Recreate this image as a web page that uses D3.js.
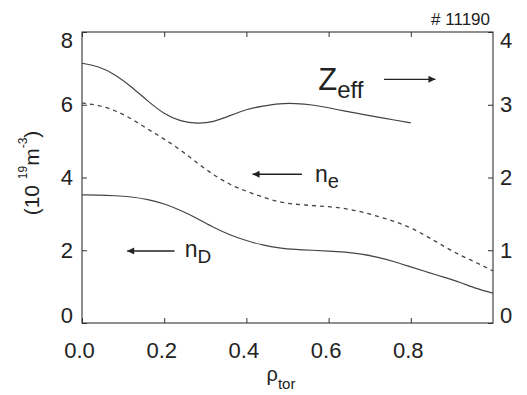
<!DOCTYPE html>
<html>
<head>
<meta charset="utf-8">
<script src="https://cdn.jsdelivr.net/npm/d3@7"></script>
<style>
  body { margin: 0; background: #fff; }
  svg { font-family: "Liberation Sans", Arial, sans-serif; }
  .axis text { fill: #222; font-size: 22px; }
  .axis line { stroke: #333; }
  .lbl { fill: #222; }
</style>
</head>
<body>
<div id="chart"></div>
<script>
// profile data (rho_tor vs value)
var rhoZeff = [0, 0.04, 0.08, 0.12, 0.16, 0.2, 0.24, 0.28, 0.32, 0.36, 0.4, 0.44, 0.48, 0.52, 0.56, 0.6, 0.64, 0.68, 0.72, 0.76, 0.80];
var zeff    = [3.57, 3.53, 3.42, 3.25, 3.05, 2.87, 2.77, 2.74, 2.76, 2.85, 2.94, 2.98, 3.02, 3.02, 3.00, 2.96, 2.91, 2.87, 2.83, 2.79, 2.75];

var rhoNe = [0, 0.04, 0.08, 0.12, 0.16, 0.2, 0.24, 0.28, 0.32, 0.36, 0.4, 0.44, 0.48, 0.52, 0.56, 0.6, 0.64, 0.68, 0.72, 0.76, 0.8, 0.84, 0.88, 0.92, 0.96, 1.0];
var ne    = [6.05, 5.99, 5.85, 5.62, 5.33, 5.06, 4.76, 4.40, 4.07, 3.80, 3.62, 3.46, 3.32, 3.26, 3.23, 3.20, 3.15, 3.06, 2.93, 2.80, 2.62, 2.38, 2.11, 1.86, 1.66, 1.43];

var rhoNd = [0, 0.04, 0.08, 0.12, 0.16, 0.2, 0.24, 0.28, 0.32, 0.36, 0.4, 0.44, 0.48, 0.52, 0.56, 0.6, 0.64, 0.68, 0.72, 0.76, 0.8, 0.84, 0.88, 0.92, 0.96, 1.0];
var nD    = [3.52, 3.52, 3.50, 3.47, 3.40, 3.28, 3.10, 2.88, 2.62, 2.42, 2.26, 2.14, 2.06, 2.02, 2.00, 1.98, 1.95, 1.90, 1.81, 1.69, 1.54, 1.40, 1.26, 1.12, 0.94, 0.82];

var xTicks = [0, 0.2, 0.4, 0.6, 0.8];
var yLeftTicks = [0, 2, 4, 6, 8];
var yRightTicks = [0, 1, 2, 3, 4];

var W = 527, H = 395;
var margin = {top: 32, right: 34, bottom: 72, left: 82},
    width = W - margin.left - margin.right,
    height = H - margin.top - margin.bottom;

var svg = d3.select("#chart").append("svg")
    .attr("width", W)
    .attr("height", H);

var g = svg.append("g")
    .attr("transform", "translate(" + margin.left + "," + margin.top + ")");

var x = d3.scaleLinear().domain([0, 1]).range([0, width]);
var yL = d3.scaleLinear().domain([0, 8]).range([height, 0]);
var yR = d3.scaleLinear().domain([0, 4]).range([height, 0]);

// marker for the arrows
svg.append("defs").append("marker")
    .attr("id", "arr")
    .attr("viewBox", "0 0 10 10")
    .attr("refX", 10).attr("refY", 5)
    .attr("markerWidth", 10).attr("markerHeight", 7)
    .attr("markerUnits", "userSpaceOnUse")
    .attr("orient", "auto")
    .append("path")
    .attr("d", "M0,0 L10,5 L0,10 z")
    .attr("fill", "#222");

// clamp end labels inside the frame
function clampLabels(sel, lo, hi) {
    sel.selectAll(".tick text")
        .attr("y", function(d) { return d === hi ? 8 : d === lo ? -8 : 0; });
}

// axes
g.append("g")
    .attr("class", "axis")
    .attr("transform", "translate(0," + height + ")")
    .call(d3.axisBottom(x).tickValues(xTicks).tickSizeInner(-5).tickSizeOuter(0)
        .tickPadding(19).tickFormat(d3.format(".1f")))
    .call(function(s) { s.select(".domain").remove(); s.selectAll("text").attr("dx", -3); });

g.append("g")
    .attr("class", "axis")
    .call(d3.axisTop(x).tickValues(xTicks).tickSizeInner(-5).tickSizeOuter(0).tickFormat(""))
    .call(function(s) { s.select(".domain").remove(); });

g.append("g")
    .attr("class", "axis")
    .call(d3.axisLeft(yL).tickValues(yLeftTicks).tickSizeInner(-5).tickSizeOuter(0)
        .tickPadding(9).tickFormat(d3.format("d")))
    .call(function(s) { s.select(".domain").remove(); clampLabels(s, 0, 8); });

g.append("g")
    .attr("class", "axis")
    .attr("transform", "translate(" + width + ",0)")
    .call(d3.axisRight(yR).tickValues(yRightTicks).tickSizeInner(-5).tickSizeOuter(0)
        .tickPadding(7).tickFormat(d3.format("d")))
    .call(function(s) { s.select(".domain").remove(); clampLabels(s, 0, 4); });

// frame
g.append("rect")
    .attr("width", width)
    .attr("height", height)
    .attr("fill", "none")
    .attr("stroke", "#333")
    .attr("stroke-width", 1.1);

// curves
function profile(xs, ys, yScale) {
    return d3.line()
        .x(function(d, i) { return x(xs[i]); })
        .y(function(d) { return yScale(d); })
        .curve(d3.curveBasis)(ys);
}

g.append("path")
    .attr("d", profile(rhoZeff, zeff, yR))
    .attr("fill", "none").attr("stroke", "#444").attr("stroke-width", 1.2);

g.append("path")
    .attr("d", profile(rhoNe, ne, yL))
    .attr("fill", "none").attr("stroke", "#444").attr("stroke-width", 1.3)
    .attr("stroke-dasharray", "4,4");

g.append("path")
    .attr("d", profile(rhoNd, nD, yL))
    .attr("fill", "none").attr("stroke", "#444").attr("stroke-width", 1.2);

// annotations
function arrow(x1, y1, x2, y2) {
    g.append("line")
        .attr("x1", x1).attr("y1", y1).attr("x2", x2).attr("y2", y2)
        .attr("stroke", "#222").attr("stroke-width", 1.3)
        .attr("marker-end", "url(#arr)");
}

var zt = g.append("text").attr("class", "lbl")
    .attr("x", x(0.575)).attr("y", yR(3.2));
zt.append("tspan").attr("font-size", 31).text("Z");
zt.append("tspan").attr("font-size", 24).attr("dy", 8).text("eff");
arrow(x(0.735), yR(3.35), x(0.86), yR(3.35));

var nt = g.append("text").attr("class", "lbl")
    .attr("x", x(0.567)).attr("y", yL(3.89));
nt.append("tspan").attr("font-size", 23).text("n");
nt.append("tspan").attr("font-size", 20).attr("dy", 6).text("e");
arrow(x(0.535), yL(4.09), x(0.415), yL(4.09));

var dt = g.append("text").attr("class", "lbl")
    .attr("x", x(0.25)).attr("y", yL(1.82));
dt.append("tspan").attr("font-size", 23).text("n");
dt.append("tspan").attr("font-size", 19).attr("dy", 6).text("D");
arrow(x(0.225), yL(1.98), x(0.11), yL(1.98));

// shot number
svg.append("text").attr("class", "lbl")
    .attr("x", 490).attr("y", 25)
    .attr("text-anchor", "end")
    .attr("font-size", 17)
    .text("# 11190");

// axis titles
var yt = svg.append("text").attr("class", "lbl")
    .attr("transform", "translate(39,173) rotate(-90)")
    .attr("text-anchor", "middle")
    .attr("font-size", 21);
yt.append("tspan").text("(10 ");
yt.append("tspan").attr("font-size", 12).attr("dy", -12).text("19");
yt.append("tspan").attr("dy", 12).text("m");
yt.append("tspan").attr("font-size", 12).attr("dy", -12).text("-3");
yt.append("tspan").attr("dy", 12).text(")");

var xt = svg.append("text").attr("class", "lbl")
    .attr("x", 281).attr("y", 381)
    .attr("text-anchor", "middle");
xt.append("tspan").attr("font-size", 20).text("ρ");
xt.append("tspan").attr("font-size", 15).attr("dy", 8).text("tor");
</script>
</body>
</html>
